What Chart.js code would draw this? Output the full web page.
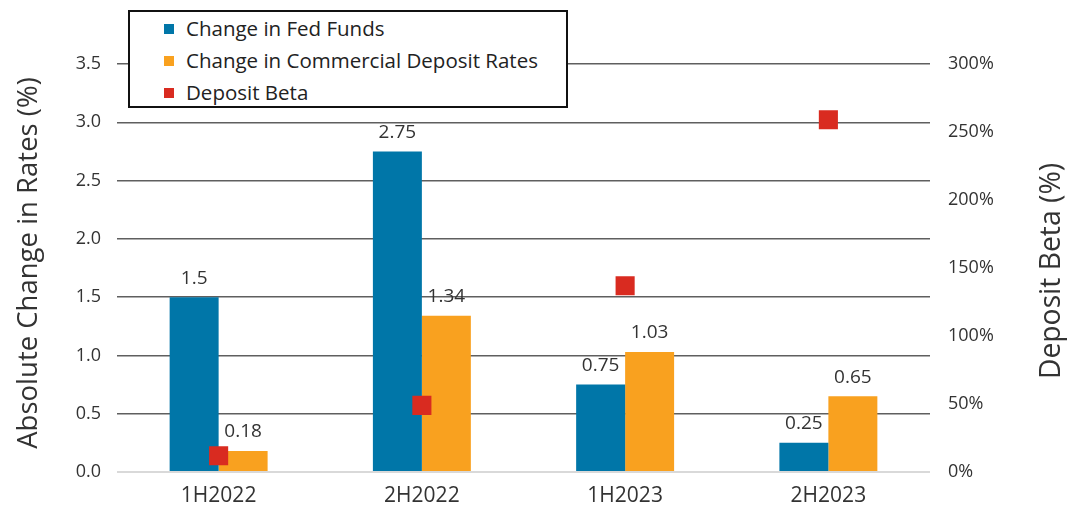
<!DOCTYPE html>
<html>
<head>
<meta charset="utf-8">
<script src="https://cdn.jsdelivr.net/npm/chart.js@4.4.1/dist/chart.umd.min.js"></script>
<style>
  html, body { margin: 0; padding: 0; background: #fff; }
  #wrap { position: relative; width: 1067px; height: 509px; }
  #legend {
    position: absolute; left: 128px; top: 10px; width: 436px; height: 94px;
    background: #fff; border: 2px solid #111;
    font-family: "Open Sans", "Noto Sans", sans-serif; font-size: 20.5px; color: #222;
  }
  .item { position: absolute; left: 34px; height: 26px; line-height: 26px; white-space: nowrap; }
  .item span { display: inline-block; width: 10px; height: 10px; margin-right: 12px; vertical-align: 2px; }
</style>
</head>
<body>
<div id="wrap">
  <canvas id="chart" width="1067" height="509"></canvas>
  <div id="legend"></div>
</div>
<script>
const periods = ["1H2022", "2H2022", "1H2023", "2H2023"];
const fedFunds = [1.5, 2.75, 0.75, 0.25];
const depositRates = [0.18, 1.34, 1.03, 0.65];
const depositBeta = [12, 49, 137, 259];

const seriesNames = ["Change in Fed Funds", "Change in Commercial Deposit Rates", "Deposit Beta"];
const seriesColors = ["#0076a8", "#f9a11f", "#d92b20"];

const fontFamily = "'Open Sans', 'Noto Sans', sans-serif";
const textColor = "#333";

// legend box sits over the plot
let legendHtml = "";
seriesNames.forEach((name, i) => {
    legendHtml += `<div class="item" style="top:${3 + i * 32}px"><span style="background:${seriesColors[i]}"></span>${name}</div>`;
});
document.getElementById("legend").innerHTML = legendHtml;

const valueLabels = {
    id: "valueLabels",
    afterDatasetsDraw(chart) {
        const ctx = chart.ctx;
        ctx.save();
        ctx.font = "19px " + fontFamily;
        ctx.fillStyle = textColor;
        ctx.textAlign = "center";
        ctx.textBaseline = "middle";
        [0, 1].forEach(d => {
            const meta = chart.getDatasetMeta(d);
            meta.data.forEach((bar, i) => {
                ctx.fillText(String(chart.data.datasets[d].data[i]), bar.x, bar.y - 19);
            });
        });
        ctx.restore();
    }
};

// vertical axis titles, both read bottom to top
function drawTitle(ctx, text, x, y, size) {
    ctx.save();
    ctx.translate(x, y);
    ctx.rotate(-Math.PI / 2);
    ctx.font = size + "px " + fontFamily;
    ctx.fillStyle = textColor;
    ctx.textAlign = "center";
    ctx.textBaseline = "middle";
    ctx.fillText(text, 0, 0);
    ctx.restore();
}

const axisTitles = {
    id: "axisTitles",
    afterDraw(chart) {
        drawTitle(chart.ctx, "Absolute Change in Rates (%)", 29, 263, 27.5);
        drawTitle(chart.ctx, "Deposit Beta (%)", 1052, 271, 28.3);
    }
};

new Chart(document.getElementById("chart"), {
    type: "bar",
    data: {
        labels: periods,
        datasets: [
            {
                label: seriesNames[0],
                data: fedFunds,
                backgroundColor: seriesColors[0],
                yAxisID: "y",
                order: 1,
                categoryPercentage: 0.482,
                barPercentage: 1
            },
            {
                label: seriesNames[1],
                data: depositRates,
                backgroundColor: seriesColors[1],
                yAxisID: "y",
                order: 1,
                categoryPercentage: 0.482,
                barPercentage: 1
            },
            {
                type: "line",
                label: seriesNames[2],
                data: depositBeta,
                yAxisID: "y1",
                showLine: false,
                pointStyle: "rect",
                pointRadius: 13.5,
                pointBackgroundColor: seriesColors[2],
                pointBorderWidth: 0,
                order: 0
            }
        ]
    },
    options: {
        responsive: false,
        animation: false,
        layout: { padding: { top: 64, right: 0, left: 0, bottom: 0 } },
        plugins: {
            legend: { display: false },
            tooltip: { enabled: false }
        },
        scales: {
            x: {
                grid: { display: false, drawTicks: false },
                border: { display: false },
                ticks: { color: textColor, font: { family: fontFamily, size: 21 }, padding: 11 },
                afterFit(scale) { scale.height = 37; }
            },
            y: {
                position: "left",
                min: 0,
                max: 3.5,
                ticks: {
                    stepSize: 0.5,
                    color: textColor,
                    font: { family: fontFamily, size: 18 },
                    padding: 16,
                    callback: v => v.toFixed(1)
                },
                grid: {
                    drawTicks: false,
                    color: c => c.tick && c.tick.value === 0 ? "#d9d9d9" : "#5f5f5f",
                    lineWidth: c => c.tick && c.tick.value === 0 ? 2 : 1.5
                },
                border: { display: false },
                afterFit(scale) { scale.width = 117; }
            },
            y1: {
                position: "right",
                min: 0,
                max: 300,
                ticks: {
                    stepSize: 50,
                    color: textColor,
                    font: { family: fontFamily, size: 18 },
                    padding: 18,
                    callback: v => v + "%"
                },
                grid: { display: false, drawTicks: false },
                border: { display: false },
                afterFit(scale) { scale.width = 137; }
            }
        }
    },
    plugins: [valueLabels, axisTitles]
});
</script>
</body>
</html>
